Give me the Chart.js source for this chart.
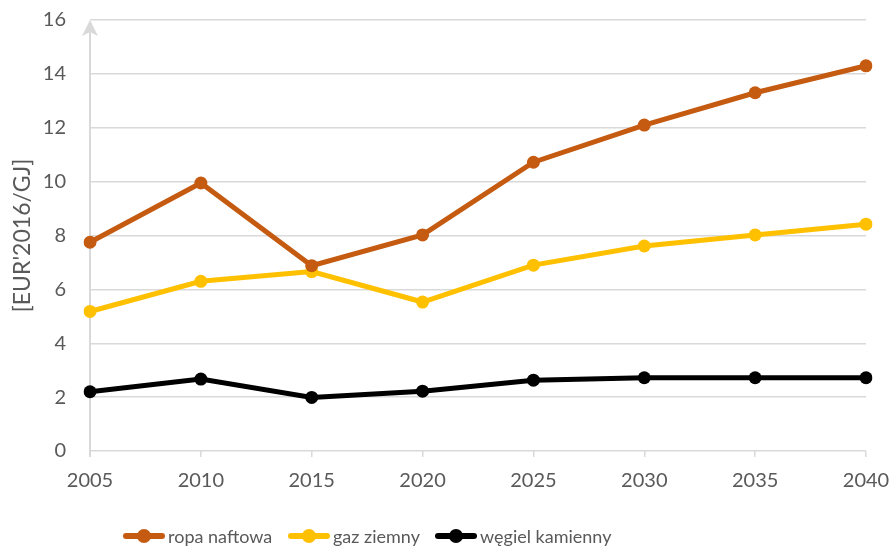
<!DOCTYPE html>
<html>
<head>
<meta charset="utf-8">
<script src="https://cdn.jsdelivr.net/npm/chart.js@4/dist/chart.umd.min.js"></script>
<style>
  html, body { margin: 0; padding: 0; background: #ffffff; }
  #wrap { position: relative; width: 895px; height: 548px; }
  #legend { position: absolute; left: 0; top: 524px; width: 895px; height: 24px;
            font-family: Lato, sans-serif; font-size: 18px; color: #595959; white-space: nowrap; }
  .item { position: absolute; top: 0; height: 24px; display: flex; align-items: center; }
  .mark { position: relative; width: 42px; height: 14px; margin-right: 3px; }
  .mark .ln { position: absolute; left: 0; top: 4px; width: 42px; height: 6px; border-radius: 3px; }
  .mark .dot { position: absolute; left: 14px; top: 0; width: 14px; height: 14px; border-radius: 50%; }
</style>
</head>
<body>
<div id="wrap">
  <canvas id="chart" width="895" height="548"></canvas>
  <div id="legend"></div>
</div>
<script>
// Fuel prices, EUR'2016 per GJ
const years = ['2005', '2010', '2015', '2020', '2025', '2030', '2035', '2040'];
const ropaNaftowa = [7.75, 9.95, 6.88, 8.02, 10.72, 12.1, 13.3, 14.3];
const gazZiemny = [5.18, 6.3, 6.66, 5.53, 6.9, 7.61, 8.02, 8.42];
const wegielKamienny = [2.2, 2.67, 1.99, 2.22, 2.63, 2.72, 2.72, 2.72];
const seriesNames = ['ropa naftowa', 'gaz ziemny', 'węgiel kamienny'];
const yTicks = [0, 2, 4, 6, 8, 10, 12, 14, 16];
const yTitle = "[EUR'2016/GJ]";

const colors = ['#C55A11', '#FFC000', '#000000'];
const legendLeft = [123, 288, 435];
const gridColor = '#D9D9D9';
const textColor = '#595959';
const tickFont = { family: 'Lato, sans-serif', size: 20 };
const titleFont = { family: 'Lato, sans-serif', size: 23 };

function makeSet(label, data, color) {
  return {
    label, data,
    borderColor: color, backgroundColor: color,
    borderWidth: 5, pointRadius: 6.5, pointHoverRadius: 6.5,
    pointBackgroundColor: color, pointBorderColor: color, pointBorderWidth: 0,
    tension: 0
  };
}

// Y axis line with an arrowhead on top
const axisArrow = {
  id: 'axisArrow',
  beforeDatasetsDraw(chart) {
    const { ctx, chartArea } = chart;
    const x = chartArea.left;
    ctx.save();
    ctx.strokeStyle = gridColor; ctx.fillStyle = gridColor; ctx.lineWidth = 2;
    ctx.beginPath(); ctx.moveTo(x, chartArea.bottom + 6); ctx.lineTo(x, chartArea.top + 2); ctx.stroke();
    ctx.beginPath();
    ctx.moveTo(x, chartArea.top);
    ctx.lineTo(x - 8, chartArea.top + 16);
    ctx.lineTo(x, chartArea.top + 12);
    ctx.lineTo(x + 8, chartArea.top + 16);
    ctx.closePath(); ctx.fill();
    ctx.restore();
  }
};

const chart = new Chart(document.getElementById('chart'), {
  type: 'line',
  data: {
    labels: years,
    datasets: [
      makeSet(seriesNames[0], ropaNaftowa, colors[0]),
      makeSet(seriesNames[1], gazZiemny, colors[1]),
      makeSet(seriesNames[2], wegielKamienny, colors[2])
    ]
  },
  options: {
    responsive: false,
    animation: false,
    layout: { padding: { left: 0, right: 29, top: 20, bottom: 57 } },
    plugins: { tooltip: { enabled: false }, legend: { display: false } },
    scales: {
      x: {
        offset: false,
        grid: { display: true, drawOnChartArea: false, drawTicks: true, tickLength: 6, color: gridColor, lineWidth: 1.5 },
        border: { display: false },
        ticks: { color: textColor, font: tickFont, padding: 12, maxRotation: 0 },
        afterFit(scale) { scale.height = 40; scale.paddingLeft = 0; scale.paddingRight = 0; }
      },
      y: {
        min: 0, max: 16,
        afterBuildTicks(scale) { scale.ticks = yTicks.map(v => ({ value: v })); },
        grid: { color: gridColor, lineWidth: 1.5, drawTicks: false },
        border: { display: false },
        ticks: { color: textColor, font: tickFont, padding: 24 },
        title: { display: true, text: yTitle, color: textColor, font: titleFont, padding: { top: 9, bottom: 0 } },
        afterFit(scale) { scale.width = 90; scale.paddingTop = 0; scale.paddingBottom = 0; }
      }
    }
  },
  plugins: [axisArrow]
});

// Legend built from the same series names and colours
const legend = document.getElementById('legend');
chart.data.datasets.forEach((ds, i) => {
  const item = document.createElement('div');
  item.className = 'item';
  item.style.left = legendLeft[i] + 'px';
  item.innerHTML = '<span class="mark"><span class="ln"></span><span class="dot"></span></span><span class="txt"></span>';
  item.querySelector('.ln').style.background = ds.borderColor;
  item.querySelector('.dot').style.background = ds.borderColor;
  item.querySelector('.txt').textContent = ds.label;
  legend.appendChild(item);
});
</script>
</body>
</html>
